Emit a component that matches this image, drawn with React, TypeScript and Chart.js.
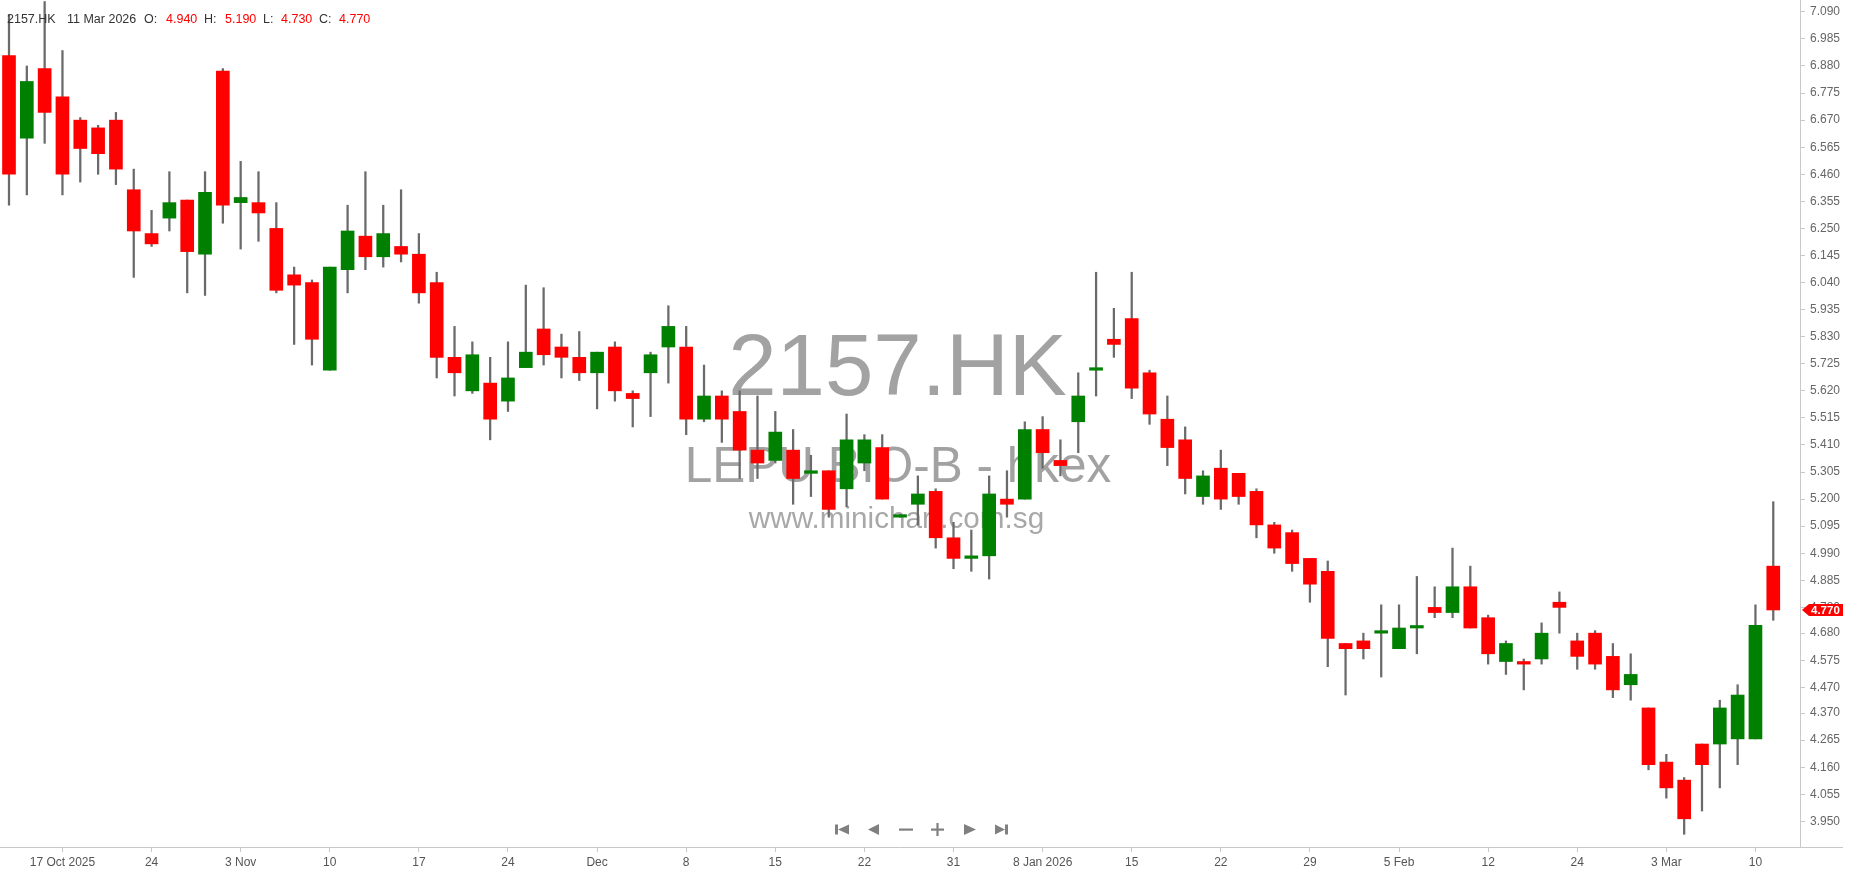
import React, { useEffect, useRef } from "react";
import { Chart, registerables } from "chart.js";

Chart.register(...registerables);

// ---------- DATA ----------
const symbol = "2157.HK";
const companyName = "LEPU BIO-B - hkex";
const siteName = "www.minichart.com.sg";

const dates = [
  "2025-10-14", "2025-10-15", "2025-10-16", "2025-10-17",
  "2025-10-20", "2025-10-21", "2025-10-22", "2025-10-23", "2025-10-24",
  "2025-10-27", "2025-10-28", "2025-10-30", "2025-10-31",
  "2025-11-03", "2025-11-04", "2025-11-05", "2025-11-06", "2025-11-07",
  "2025-11-10", "2025-11-11", "2025-11-12", "2025-11-13", "2025-11-14",
  "2025-11-17", "2025-11-18", "2025-11-19", "2025-11-20", "2025-11-21",
  "2025-11-24", "2025-11-25", "2025-11-26", "2025-11-27", "2025-11-28",
  "2025-12-01", "2025-12-02", "2025-12-03", "2025-12-04", "2025-12-05",
  "2025-12-08", "2025-12-09", "2025-12-10", "2025-12-11", "2025-12-12",
  "2025-12-15", "2025-12-16", "2025-12-17", "2025-12-18", "2025-12-19",
  "2025-12-22", "2025-12-23", "2025-12-24", "2025-12-29", "2025-12-30", "2025-12-31",
  "2026-01-02",
  "2026-01-05", "2026-01-06", "2026-01-07", "2026-01-08", "2026-01-09",
  "2026-01-12", "2026-01-13", "2026-01-14", "2026-01-15", "2026-01-16",
  "2026-01-19", "2026-01-20", "2026-01-21", "2026-01-22", "2026-01-23",
  "2026-01-26", "2026-01-27", "2026-01-28", "2026-01-29", "2026-01-30",
  "2026-02-02", "2026-02-03", "2026-02-04", "2026-02-05", "2026-02-06",
  "2026-02-09", "2026-02-10", "2026-02-11", "2026-02-12", "2026-02-13",
  "2026-02-16", "2026-02-20",
  "2026-02-23", "2026-02-24", "2026-02-25", "2026-02-26", "2026-02-27",
  "2026-03-02", "2026-03-03", "2026-03-04", "2026-03-05", "2026-03-06",
  "2026-03-09", "2026-03-10", "2026-03-11",
];

const opens = [
  6.92, 6.60, 6.87, 6.76, 6.67, 6.64, 6.67, 6.40, 6.23, 6.29,
  6.36, 6.15, 6.86, 6.35, 6.35, 6.25, 6.07, 6.04, 5.70, 6.09,
  6.22, 6.14, 6.18, 6.15, 6.04, 5.75, 5.62, 5.65, 5.58, 5.71,
  5.86, 5.79, 5.75, 5.69, 5.79, 5.61, 5.69, 5.79, 5.79, 5.51,
  5.60, 5.54, 5.39, 5.35, 5.39, 5.30, 5.31, 5.24, 5.34, 5.40,
  5.13, 5.18, 5.23, 5.05, 4.97, 4.98, 5.20, 5.20, 5.47, 5.35,
  5.50, 5.70, 5.82, 5.90, 5.69, 5.51, 5.43, 5.21, 5.32, 5.30,
  5.23, 5.10, 5.07, 4.97, 4.92, 4.64, 4.65, 4.68, 4.62, 4.70,
  4.78, 4.76, 4.86, 4.74, 4.57, 4.57, 4.58, 4.80, 4.65, 4.68,
  4.59, 4.48, 4.39, 4.18, 4.11, 4.25, 4.25, 4.27, 4.27, 4.94,
];

const highs = [
  7.08, 6.88, 7.13, 6.94, 6.68, 6.65, 6.70, 6.48, 6.32, 6.47,
  6.36, 6.47, 6.87, 6.51, 6.47, 6.35, 6.10, 6.05, 6.10, 6.34,
  6.47, 6.34, 6.40, 6.23, 6.08, 5.87, 5.81, 5.75, 5.81, 6.03,
  6.02, 5.84, 5.85, 5.77, 5.81, 5.62, 5.77, 5.95, 5.87, 5.72,
  5.62, 5.62, 5.60, 5.54, 5.47, 5.37, 5.31, 5.53, 5.45, 5.45,
  5.14, 5.29, 5.24, 5.11, 5.08, 5.29, 5.31, 5.50, 5.52, 5.43,
  5.69, 6.08, 5.94, 6.08, 5.70, 5.60, 5.48, 5.31, 5.39, 5.30,
  5.24, 5.11, 5.08, 4.97, 4.96, 4.64, 4.68, 4.79, 4.79, 4.90,
  4.86, 5.01, 4.94, 4.75, 4.65, 4.58, 4.72, 4.84, 4.68, 4.69,
  4.64, 4.60, 4.39, 4.21, 4.12, 4.25, 4.42, 4.48, 4.79, 5.19,
];

const lows = [
  6.34, 6.38, 6.58, 6.38, 6.43, 6.46, 6.42, 6.06, 6.18, 6.24,
  6.00, 5.99, 6.27, 6.17, 6.20, 6.00, 5.80, 5.72, 5.70, 6.00,
  6.09, 6.10, 6.12, 5.96, 5.67, 5.60, 5.61, 5.43, 5.54, 5.71,
  5.72, 5.67, 5.66, 5.55, 5.58, 5.48, 5.52, 5.65, 5.45, 5.50,
  5.42, 5.28, 5.28, 5.34, 5.18, 5.21, 5.13, 5.17, 5.31, 5.20,
  5.13, 5.10, 5.01, 4.93, 4.92, 4.89, 5.13, 5.20, 5.32, 5.29,
  5.38, 5.60, 5.75, 5.59, 5.49, 5.33, 5.22, 5.18, 5.16, 5.18,
  5.05, 4.99, 4.92, 4.80, 4.55, 4.44, 4.58, 4.51, 4.62, 4.60,
  4.74, 4.74, 4.70, 4.56, 4.52, 4.46, 4.56, 4.68, 4.54, 4.54,
  4.43, 4.42, 4.15, 4.04, 3.90, 3.99, 4.08, 4.17, 4.27, 4.73,
];

const closes = [
  6.46, 6.82, 6.70, 6.46, 6.56, 6.54, 6.48, 6.24, 6.19, 6.35,
  6.16, 6.39, 6.34, 6.37, 6.31, 6.01, 6.03, 5.82, 6.10, 6.24,
  6.14, 6.23, 6.15, 6.00, 5.75, 5.69, 5.76, 5.51, 5.67, 5.77,
  5.76, 5.75, 5.69, 5.77, 5.62, 5.59, 5.76, 5.87, 5.51, 5.60,
  5.51, 5.39, 5.34, 5.46, 5.28, 5.31, 5.16, 5.43, 5.43, 5.20,
  5.13, 5.22, 5.05, 4.97, 4.98, 5.22, 5.18, 5.47, 5.38, 5.33,
  5.60, 5.70, 5.80, 5.63, 5.53, 5.40, 5.28, 5.29, 5.20, 5.21,
  5.10, 5.01, 4.95, 4.87, 4.66, 4.62, 4.62, 4.68, 4.70, 4.70,
  4.76, 4.86, 4.70, 4.60, 4.64, 4.56, 4.68, 4.78, 4.59, 4.56,
  4.46, 4.52, 4.17, 4.08, 3.96, 4.17, 4.39, 4.44, 4.71, 4.77,
];

const xTickDates = [
  "2025-10-17", "2025-10-24", "2025-11-03", "2025-11-10", "2025-11-17",
  "2025-11-24", "2025-12-01", "2025-12-08", "2025-12-15", "2025-12-22",
  "2025-12-31", "2026-01-08", "2026-01-15", "2026-01-22", "2026-01-29",
  "2026-02-05", "2026-02-12", "2026-02-24", "2026-03-03", "2026-03-10",
];
const xTickLabels = [
  "17 Oct 2025", "24", "3 Nov", "10", "17",
  "24", "Dec", "8", "15", "22",
  "31", "8 Jan 2026", "15", "22", "29",
  "5 Feb", "12", "24", "3 Mar", "10",
];

const yTickLabels = [
  "7.090", "6.985", "6.880", "6.775", "6.670", "6.565", "6.460", "6.355",
  "6.250", "6.145", "6.040", "5.935", "5.830", "5.725", "5.620", "5.515",
  "5.410", "5.305", "5.200", "5.095", "4.990", "4.885", "4.780", "4.680",
  "4.575", "4.470", "4.370", "4.265", "4.160", "4.055", "3.950",
];

const monthNames = ["Jan", "Feb", "Mar", "Apr", "May", "Jun", "Jul", "Aug", "Sep", "Oct", "Nov", "Dec"];

// ---------- STYLE ----------
const RED = "#ff0000";
const GREEN = "#008000";
const WICK = "#6a6a6a";
const AXIS = "#c8c8c8";
const FONT = '"Liberation Sans", Arial, sans-serif';

function fmtDate(iso: string) {
  const [y, m, d] = iso.split("-").map(Number);
  return `${d} ${monthNames[m - 1]} ${y}`;
}

export default function App() {
  const ref = useRef<HTMLCanvasElement>(null);

  useEffect(() => {
    const canvas = ref.current;
    if (!canvas) return;
    const idx = dates.map((_, i) => i);
    const wickData = idx.map((i) => ({ x: i, y: [lows[i], highs[i]] }));
    const bodyData = idx.map((i) => ({ x: i, y: [opens[i], closes[i]] }));
    const bodyColors = idx.map((i) => (closes[i] >= opens[i] ? GREEN : RED));
    const xTickIdx = xTickDates.map((d) => dates.indexOf(d));
    const yTickVals = yTickLabels.map(Number);
    const last = dates.length - 1;

    const decor = {
      id: "decor",
      beforeDatasetsDraw(chart: any) {
        const ctx = chart.ctx;
        ctx.save();
        ctx.textAlign = "center";
        ctx.textBaseline = "alphabetic";
        ctx.fillStyle = "#a2a2a2";
        ctx.font = `87px ${FONT}`;
        ctx.fillText(symbol, 897.5, 395);
        ctx.font = `49.5px ${FONT}`;
        ctx.fillText(companyName, 898, 482);
        ctx.fillStyle = "#a8a8a8";
        ctx.font = `29.7px ${FONT}`;
        ctx.fillText(siteName, 896.5, 528);
        ctx.restore();
      },
      afterDraw(chart: any) {
        const ctx = chart.ctx;
        const ca = chart.chartArea;
        ctx.save();
        ctx.strokeStyle = AXIS;
        ctx.lineWidth = 1;
        ctx.beginPath();
        ctx.moveTo(ca.right, Math.round(ca.bottom) + 0.5);
        ctx.lineTo(1843, Math.round(ca.bottom) + 0.5);
        ctx.stroke();

        ctx.textAlign = "left";
        ctx.textBaseline = "alphabetic";
        ctx.font = `12.5px ${FONT}`;
        const parts: [string, number, string][] = [
          [symbol, 7, "#333"],
          [fmtDate(dates[last]), 67, "#333"],
          ["O:", 144, "#333"],
          [opens[last].toFixed(3), 166, RED],
          ["H:", 204, "#333"],
          [highs[last].toFixed(3), 225, RED],
          ["L:", 263, "#333"],
          [lows[last].toFixed(3), 281, RED],
          ["C:", 319, "#333"],
          [closes[last].toFixed(3), 339, RED],
        ];
        for (const [t, x, c] of parts) {
          ctx.fillStyle = c;
          ctx.fillText(t, x, 23);
        }

        const yp = chart.scales.y.getPixelForValue(closes[last]);
        ctx.fillStyle = RED;
        ctx.beginPath();
        ctx.moveTo(1802, yp);
        ctx.lineTo(1809, yp - 6);
        ctx.lineTo(1843, yp - 6);
        ctx.lineTo(1843, yp + 6);
        ctx.lineTo(1809, yp + 6);
        ctx.closePath();
        ctx.fill();
        ctx.fillStyle = "#fff";
        ctx.font = `bold 11.5px ${FONT}`;
        ctx.textBaseline = "middle";
        ctx.fillText(closes[last].toFixed(3), 1811, yp + 0.5);

        const cy = 829.5;
        ctx.fillStyle = "#808080";
        ctx.fillRect(835, cy - 5, 3, 10);
        ctx.beginPath();
        ctx.moveTo(849, cy - 5); ctx.lineTo(849, cy + 5); ctx.lineTo(838, cy); ctx.closePath(); ctx.fill();
        ctx.beginPath();
        ctx.moveTo(879, cy - 5.5); ctx.lineTo(879, cy + 5.5); ctx.lineTo(868, cy); ctx.closePath(); ctx.fill();
        ctx.fillRect(899, cy - 1, 14, 2.2);
        ctx.fillRect(931, cy - 1, 13, 2.2);
        ctx.fillRect(936.4, cy - 6.5, 2.2, 13);
        ctx.beginPath();
        ctx.moveTo(964, cy - 5.5); ctx.lineTo(964, cy + 5.5); ctx.lineTo(976, cy); ctx.closePath(); ctx.fill();
        ctx.beginPath();
        ctx.moveTo(995, cy - 5); ctx.lineTo(995, cy + 5); ctx.lineTo(1005, cy); ctx.closePath(); ctx.fill();
        ctx.fillRect(1005, cy - 5, 3, 10);
        ctx.restore();
      },
    };

    const chart = new Chart(canvas, {
      type: "bar",
      data: {
        datasets: [
          {
            label: "wick",
            data: wickData as any,
            backgroundColor: WICK,
            barThickness: 1.6,
            grouped: false,
            order: 2,
          } as any,
          {
            label: "body",
            data: bodyData as any,
            backgroundColor: bodyColors,
            barThickness: 13,
            minBarLength: 2.5,
            grouped: false,
            order: 1,
          } as any,
        ],
      },
      options: {
        responsive: false,
        devicePixelRatio: 1,
        animation: false,
        layout: { padding: 0 },
        plugins: {
          legend: { display: false },
          tooltip: { enabled: false },
        },
        scales: {
          x: {
            type: "linear",
            position: "bottom",
            min: -0.505,
            max: 100.5,
            offset: false,
            grid: {
              offset: false,
              drawOnChartArea: false,
              drawTicks: true,
              tickLength: 5,
              color: AXIS,
            },
            border: { display: true, color: AXIS },
            ticks: {
              autoSkip: false,
              maxRotation: 0,
              minRotation: 0,
              padding: 3,
              color: "#555",
              font: { family: FONT, size: 12 },
              callback: (_v: any, i: number) => xTickLabels[i],
            },
            afterBuildTicks: (s: any) => {
              s.ticks = xTickIdx.map((v) => ({ value: v }));
            },
            afterFit: (s: any) => {
              s.height = 27;
              s.paddingLeft = 0;
              s.paddingRight = 0;
            },
          } as any,
          y: {
            type: "linear",
            position: "right",
            min: 3.8506,
            max: 7.136,
            bounds: "data",
            beginAtZero: false,
            grid: {
              drawOnChartArea: false,
              drawTicks: true,
              tickLength: 5,
              color: AXIS,
            },
            border: { display: true, color: AXIS },
            ticks: {
              autoSkip: false,
              padding: 5,
              color: "#666",
              font: { family: FONT, size: 12 },
              callback: (_v: any, i: number) => yTickLabels[i],
            },
            afterBuildTicks: (s: any) => {
              s.ticks = yTickVals.map((v) => ({ value: v }));
            },
            afterFit: (s: any) => {
              s.width = 50;
              s.paddingTop = 0;
              s.paddingBottom = 0;
            },
          } as any,
        },
      },
      plugins: [decor],
    });

    return () => chart.destroy();
  }, []);

  return (
    <div
      style={{
        position: "fixed",
        left: 0,
        top: 0,
        width: 1850,
        height: 874,
        background: "#ffffff",
      }}
    >
      <canvas ref={ref} width={1850} height={874} style={{ display: "block", width: 1850, height: 874 }} />
    </div>
  );
}
